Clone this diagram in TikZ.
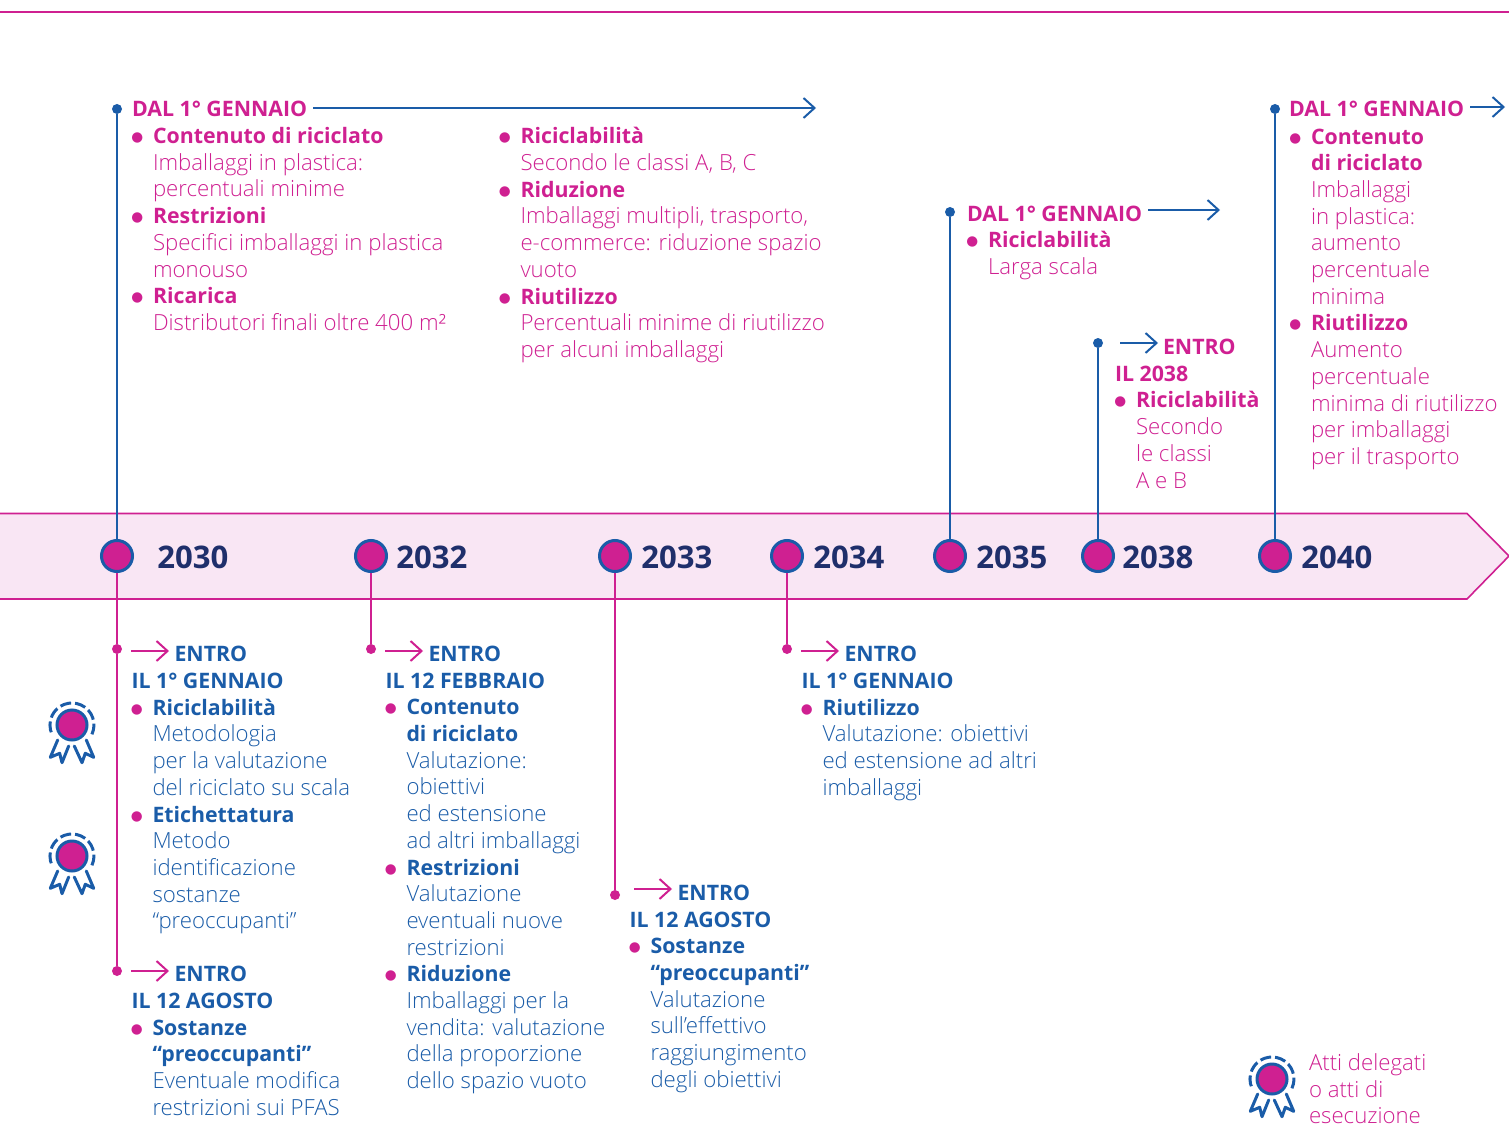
\documentclass[tikz,border=0pt]{standalone}
\usepackage{fontspec}
\setmainfont{Open Sans Light}[BoldFont={Open Sans Bold}, BoldFeatures={Scale=0.96}]
\newfontfamily\bulletfont{DejaVu Sans}
\usetikzlibrary{positioning, arrows.meta}

\definecolor{magentaline}{HTML}{CF2091}
\definecolor{blueline}{HTML}{1A5CA8}
\definecolor{bandfill}{HTML}{F9E6F4}
\definecolor{yearnavy}{HTML}{1F2F6B}

\newcommand{\vb}[1]{\leavevmode\llap{\raisebox{1pt}{\color{magentaline}\bulletfont\fontsize{6.8}{6.8}\selectfont ●}\hspace{4.9pt}}\textbf{#1}}

\begin{document}
\begin{tikzpicture}[
    x=0.5pt, y=-0.5pt,
    % Styles
    txtblock/.style={inner sep=0pt, outer sep=0pt, align=left, font=\fontsize{11.1}{13.35}\selectfont, execute at begin node=\strut, execute at end node=\strut},
    pinktxt/.style={txtblock, text=magentaline, anchor=north west},
    bluetxt/.style={txtblock, text=blueline, anchor=north west},
    bubble/.style={circle, draw=blueline, fill=magentaline, line width=1.5pt, minimum size=15.5pt, inner sep=0pt},
    topdot/.style={circle, fill=blueline, minimum size=5pt, inner sep=0pt},
    lowdot/.style={circle, fill=magentaline, minimum size=5pt, inner sep=0pt},
    yearlabel/.style={font=\fontsize{16.2}{18}\selectfont\bfseries, text=yearnavy, inner sep=0pt, yshift=-0.8pt},
    blueconn/.style={draw=blueline, line width=1.4pt},
    pinkconn/.style={draw=magentaline, line width=1.4pt},
    blueto/.style={-{Straight Barb[length=5.5pt, width=10pt, line width=1pt]}, draw=blueline, line width=1pt},
    pinkto/.style={-{Straight Barb[length=5.5pt, width=10pt, line width=1pt]}, draw=magentaline, line width=1pt},
    award/.pic={
        \fill[magentaline] (0,0) circle[radius=14];
        \draw[blueline, line width=1.5pt] (0,0) circle[radius=15];
        \draw[blueline, line width=1.5pt, dash pattern=on 5.5pt off 2pt] (19.9,9.3) arc[start angle=25, end angle=-205, radius=22];
        \draw[blueline, line width=1.5pt, line join=round, line cap=round] (-14.3,15) -- (-21.7,32.3) -- (-12.3,28.3) -- (-10,37.7) -- (-3.3,21);
        \draw[blueline, line width=1.5pt, line join=round, line cap=round] (2.3,21) -- (10,37.7) -- (13.3,28.3) -- (21.7,32.3) -- (14.3,15);
    },
]
\useasboundingbox (0,0) rectangle (1509,1139);

% Top rule and band
\draw[pinkconn] (0,12) -- (1509,12);
\draw[draw=magentaline, fill=bandfill, line width=0.8pt] (-5,513.5) -- (1467,513.5) -- (1509,556) -- (1467,599) -- (-5,599);

% Years
\node[bubble] (b2030) at (117,556) {};
\node[bubble] (b2032) at (371,556) {};
\node[bubble] (b2033) at (615,556) {};
\node[bubble] (b2034) at (787,556) {};
\node[bubble] (b2035) at (950,556) {};
\node[bubble] (b2038) at (1098,556) {};
\node[bubble] (b2040) at (1275,556) {};
\node[yearlabel, right=11.5pt of b2030] (y2030) {2030};
\node[yearlabel, right=4pt of b2032] (y2032) {2032};
\node[yearlabel, right=4.5pt of b2033] (y2033) {2033};
\node[yearlabel, right=4.5pt of b2034] (y2034) {2034};
\node[yearlabel, right=4.5pt of b2035] (y2035) {2035};
\node[yearlabel, right=3.5pt of b2038] (y2038) {2038};
\node[yearlabel, right=4.5pt of b2040] (y2040) {2040};

% Dal 1 gennaio, 2030
\node[topdot] (t2030) at (117,109) {};
\draw[blueconn] (t2030) -- (b2030);
\node[pinktxt] (h2030) at (132,97.5) {\textbf{DAL 1° GENNAIO}};
\node[pinktxt, below=1.6pt of h2030.south west, anchor=north west, xshift=10.5pt] (i2030a) {\vb{Contenuto di riciclato}\\
Imballaggi in plastica:\\
percentuali minime\\
\vb{Restrizioni}\\
Specifici imballaggi in plastica\\
monouso\\
\vb{Ricarica}\\
Distributori finali oltre 400 m²};
\node[pinktxt] (i2030b) at (520.5,127.5) {\vb{Riciclabilità}\\
Secondo le classi A, B, C\\
\vb{Riduzione}\\
Imballaggi multipli, trasporto,\\
e-commerce: riduzione spazio\\
vuoto\\
\vb{Riutilizzo}\\
Percentuali minime di riutilizzo\\
per alcuni imballaggi};
\coordinate (a2030) at (816,108);
\draw[blueto] ([xshift=3pt]h2030.east |- a2030) -- (a2030);

% Dal 1 gennaio, 2035
\node[topdot] (t2035) at (950,212) {};
\draw[blueconn] (t2035) -- (b2035);
\node[pinktxt] (h2035) at (967,202.5) {\textbf{DAL 1° GENNAIO}};
\node[pinktxt, below=1.2pt of h2035.south west, anchor=north west, xshift=10.5pt] (i2035) {\vb{Riciclabilità}\\
Larga scala};
\coordinate (a2035) at (1220,210);
\draw[blueto] ([xshift=3pt]h2035.east |- a2035) -- (a2035);

% Entro il 2038
\node[topdot] (t2038) at (1098,343) {};
\draw[blueconn] (t2038) -- (b2038);
\node[pinktxt] (h2038) at (1115,339.5) {\hspace*{24pt}\textbf{ENTRO}\\\textbf{IL 2038}};
\node[pinktxt, below=1pt of h2038.south west, anchor=north west, xshift=10.5pt] (i2038) {\vb{Riciclabilità}\\
Secondo\\
le classi\\
A e B};
\coordinate (s2038) at (1120,343);
\coordinate (a2038) at (1158,343);
\draw[blueto] (s2038) -- (a2038);

% Dal 1 gennaio, 2040
\node[topdot] (t2040) at (1275,109) {};
\draw[blueconn] (t2040) -- (b2040);
\node[pinktxt] (h2040) at (1289,97.5) {\textbf{DAL 1° GENNAIO}};
\node[pinktxt, below=2.2pt of h2040.south west, anchor=north west, xshift=11pt] (i2040) {\vb{Contenuto}\\
\textbf{di riciclato}\\
Imballaggi\\
in plastica:\\
aumento\\
percentuale\\
minima\\
\vb{Riutilizzo}\\
Aumento\\
percentuale\\
minima di riutilizzo\\
per imballaggi\\
per il trasporto};
\coordinate (a2040) at (1505,107);
\draw[blueto] ([xshift=3pt]h2040.east |- a2040) -- (a2040);

% Entro il 1 gennaio, 2030
\node[lowdot] (d2030a) at (117,649) {};
\draw[pinkconn] (b2030) -- (d2030a);
\node[bluetxt] (h2030a) at (131.5,646) {\hspace*{21.5pt}\textbf{ENTRO}\\\textbf{IL 1° GENNAIO}};
\node[bluetxt, below=1.4pt of h2030a.south west, anchor=north west, xshift=10.5pt] (j2030a) {\vb{Riciclabilità}\\
Metodologia\\
per la valutazione\\
del riciclato su scala\\
\vb{Etichettatura}\\
Metodo\\
identificazione\\
sostanze\\
“preoccupanti”};
\coordinate (s2030a) at (131,651);
\coordinate (a2030a) at (169,651);
\draw[pinkto] (s2030a) -- (a2030a);

% Entro il 12 agosto, 2030
\node[lowdot] (d2030b) at (117,971) {};
\draw[pinkconn] (d2030a) -- (d2030b);
\node[bluetxt] (h2030b) at (131.5,966) {\hspace*{21.5pt}\textbf{ENTRO}\\\textbf{IL 12 AGOSTO}};
\node[bluetxt, below=1.8pt of h2030b.south west, anchor=north west, xshift=10.5pt] (j2030b) {\vb{Sostanze}\\
\textbf{“preoccupanti”}\\
Eventuale modifica\\
restrizioni sui PFAS};
\coordinate (s2030b) at (131,971);
\coordinate (a2030b) at (169,971);
\draw[pinkto] (s2030b) -- (a2030b);

% Entro il 12 febbraio, 2032
\node[lowdot] (d2032) at (371,649) {};
\draw[pinkconn] (b2032) -- (d2032);
\node[bluetxt] (h2032) at (385.5,646) {\hspace*{21.5pt}\textbf{ENTRO}\\\textbf{IL 12 FEBBRAIO}};
\node[bluetxt, below=1.6pt of h2032.south west, anchor=north west, xshift=10.5pt] (j2032) {\vb{Contenuto}\\
\textbf{di riciclato}\\
Valutazione:\\
obiettivi\\
ed estensione\\
ad altri imballaggi\\
\vb{Restrizioni}\\
Valutazione\\
eventuali nuove\\
restrizioni\\
\vb{Riduzione}\\
Imballaggi per la\\
vendita: valutazione\\
della proporzione\\
dello spazio vuoto};
\coordinate (s2032) at (385,651);
\coordinate (a2032) at (423,651);
\draw[pinkto] (s2032) -- (a2032);

% Entro il 12 agosto, 2033
\node[lowdot] (d2033) at (615,895) {};
\draw[pinkconn] (b2033) -- (d2033);
\node[bluetxt] (h2033) at (629.5,885) {\hspace*{24pt}\textbf{ENTRO}\\\textbf{IL 12 AGOSTO}};
\node[bluetxt, below=1.6pt of h2033.south west, anchor=north west, xshift=10.5pt] (j2033) {\vb{Sostanze}\\
\textbf{“preoccupanti”}\\
Valutazione\\
sull’effettivo\\
raggiungimento\\
degli obiettivi};
\coordinate (s2033) at (634,889);
\coordinate (a2033) at (672,889);
\draw[pinkto] (s2033) -- (a2033);

% Entro il 1 gennaio, 2034
\node[lowdot] (d2034) at (787,649) {};
\draw[pinkconn] (b2034) -- (d2034);
\node[bluetxt] (h2034) at (801.5,646) {\hspace*{21.5pt}\textbf{ENTRO}\\\textbf{IL 1° GENNAIO}};
\node[bluetxt, below=1.4pt of h2034.south west, anchor=north west, xshift=10.5pt] (j2034) {\vb{Riutilizzo}\\
Valutazione: obiettivi\\
ed estensione ad altri\\
imballaggi};
\coordinate (s2034) at (801,651);
\coordinate (a2034) at (839,651);
\draw[pinkto] (s2034) -- (a2034);

% Awards and legend
\pic at (72,725) {award};
\pic at (72,856) {award};
\pic at (1272,1079) {award};
\node[pinktxt] (legend) at (1309,1053.5) {Atti delegati\\
o atti di\\
esecuzione};

\end{tikzpicture}
\end{document}
